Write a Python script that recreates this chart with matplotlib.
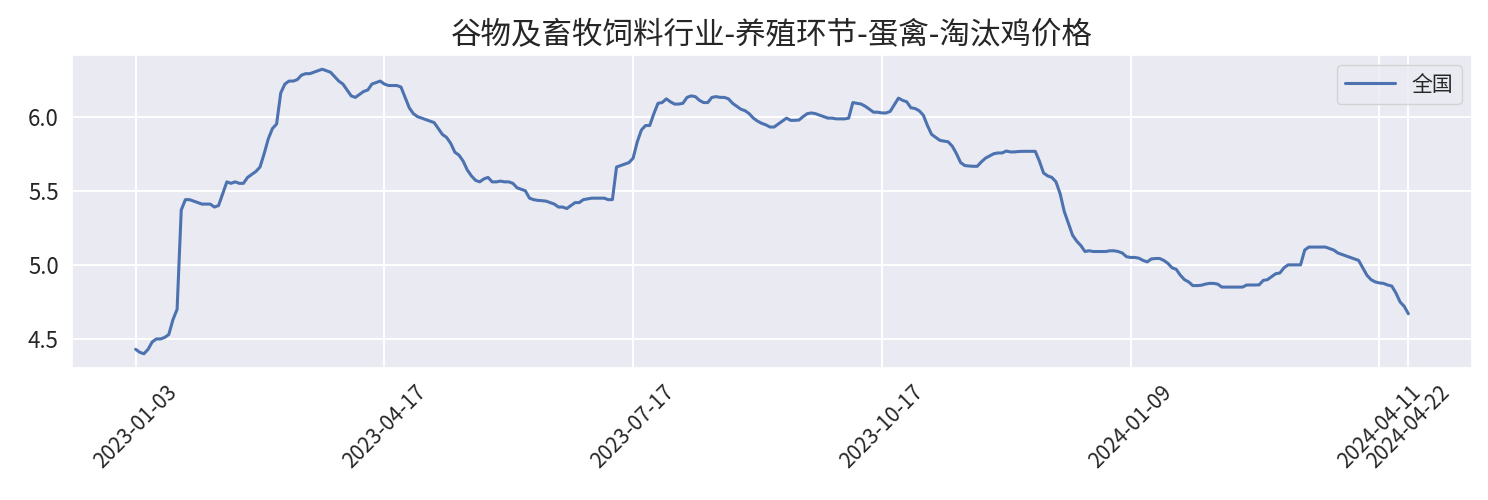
import numpy as np
import matplotlib
matplotlib.use('Agg')
import matplotlib.pyplot as plt
import seaborn as sns

#==============================================================================#
#                               Data
#==============================================================================#
title = '谷物及畜牧饲料行业-养殖环节-蛋禽-淘汰鸡价格'
series_name = '全国'

price = [
    4.43, 4.41, 4.40, 4.43, 4.48, 4.50, 4.50, 4.51, 4.53, 4.63,
    4.70, 5.37, 5.44, 5.44, 5.43, 5.42, 5.41, 5.41, 5.41, 5.39,
    5.40, 5.48, 5.56, 5.55, 5.56, 5.55, 5.55, 5.59, 5.61, 5.63,
    5.66, 5.75, 5.85, 5.92, 5.95, 6.16, 6.22, 6.24, 6.24, 6.25,
    6.28, 6.29, 6.29, 6.30, 6.31, 6.32, 6.31, 6.30, 6.27, 6.24,
    6.22, 6.18, 6.14, 6.13, 6.15, 6.17, 6.18, 6.22, 6.23, 6.24,
    6.22, 6.21, 6.21, 6.21, 6.20, 6.13, 6.06, 6.02, 6.00, 5.99,
    5.98, 5.97, 5.96, 5.92, 5.88, 5.86, 5.82, 5.76, 5.74, 5.70,
    5.64, 5.60, 5.57, 5.56, 5.58, 5.59, 5.56, 5.56, 5.565, 5.56,
    5.56, 5.55, 5.52, 5.51, 5.50, 5.45, 5.44, 5.435, 5.433, 5.43,
    5.42, 5.41, 5.39, 5.39, 5.38, 5.40, 5.42, 5.42, 5.44, 5.445,
    5.45, 5.45, 5.45, 5.45, 5.44, 5.44, 5.66, 5.67, 5.68, 5.69,
    5.72, 5.83, 5.91, 5.94, 5.94, 6.02, 6.09, 6.095, 6.12, 6.10,
    6.085, 6.085, 6.09, 6.13, 6.14, 6.135, 6.11, 6.095, 6.095, 6.13,
    6.135, 6.13, 6.13, 6.12, 6.09, 6.07, 6.05, 6.04, 6.02, 5.99,
    5.97, 5.955, 5.945, 5.93, 5.93, 5.95, 5.97, 5.99, 5.975, 5.975,
    5.977, 6.00, 6.02, 6.025, 6.02, 6.01, 6.00, 5.99, 5.99, 5.985,
    5.985, 5.985, 5.99, 6.095, 6.09, 6.085, 6.07, 6.05, 6.03, 6.03,
    6.025, 6.025, 6.035, 6.08, 6.125, 6.11, 6.10, 6.06, 6.055, 6.04,
    6.01, 5.94, 5.88, 5.86, 5.84, 5.835, 5.83, 5.80, 5.75, 5.69,
    5.67, 5.667, 5.665, 5.665, 5.695, 5.72, 5.735, 5.75, 5.755, 5.755,
    5.768, 5.762, 5.762, 5.765, 5.766, 5.766, 5.766, 5.766, 5.70, 5.62,
    5.60, 5.59, 5.56, 5.48, 5.36, 5.28, 5.20, 5.16, 5.13, 5.09,
    5.095, 5.09, 5.09, 5.09, 5.09, 5.095, 5.095, 5.09, 5.08, 5.055,
    5.05, 5.05, 5.045, 5.03, 5.02, 5.04, 5.043, 5.043, 5.03, 5.01,
    4.98, 4.97, 4.93, 4.90, 4.885, 4.86, 4.86, 4.862, 4.87, 4.875,
    4.875, 4.87, 4.85, 4.85, 4.85, 4.85, 4.85, 4.85, 4.864, 4.864,
    4.864, 4.865, 4.895, 4.90, 4.92, 4.94, 4.945, 4.98, 5.00, 5.00,
    5.00, 5.00, 5.10, 5.12, 5.12, 5.12, 5.12, 5.12, 5.11, 5.10,
    5.08, 5.07, 5.06, 5.05, 5.04, 5.03, 4.98, 4.93, 4.90, 4.885,
    4.878, 4.875, 4.864, 4.857, 4.81, 4.75, 4.72, 4.67,
]

tick_idx = [0, 60, 120, 180, 240, 300, 307]
tick_labels = ['2023-01-03', '2023-04-17', '2023-07-17', '2023-10-17',
               '2024-01-09', '2024-04-11', '2024-04-22']

#==============================================================================#
#                               Plot
#==============================================================================#
sns.set_theme(style='darkgrid')
plt.rcParams['font.family'] = ['Noto Sans CJK SC', 'DejaVu Sans']
plt.rcParams['axes.unicode_minus'] = False
plt.rcParams['grid.linewidth'] = 1.4

fig, ax = plt.subplots(figsize=(14.88, 5), dpi=100)
fig.subplots_adjust(left=72/1488, right=1472/1488, top=1-55/500, bottom=1-368/500)

x = np.arange(len(price))
ax.plot(x, price, color='#4C72B0', lw=2.2, label=series_name)

ax.set_xticks(tick_idx)
ax.set_xticklabels(tick_labels, rotation=45, fontsize=15)
ax.tick_params(axis='y', labelsize=16)
ax.set_title(title, fontsize=22, pad=8)
ax.legend(loc='upper right', fontsize=15, handlelength=2.4)

fig.savefig('out.png', dpi=100)
